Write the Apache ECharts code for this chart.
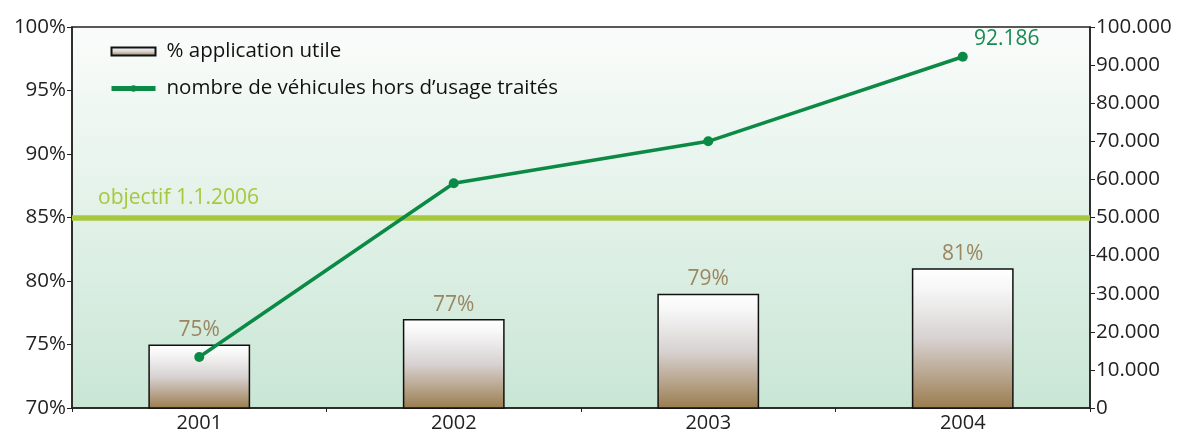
<!DOCTYPE html>
<html>
<head>
<meta charset="utf-8">
<script src="https://cdn.jsdelivr.net/npm/echarts@6/dist/echarts.min.js"></script>
<style>
html, body { margin: 0; padding: 0; background: #fff; }
#chart { width: 1183px; height: 435px; }
</style>
</head>
<body>
<div id="chart"></div>
<script>
const years = ['2001', '2002', '2003', '2004']
const applicationUtile = [75, 77, 79, 81]
const vehicules = [13400, 59000, 70000, 92186]
const objectif = 85
const objectifLabel = 'objectif 1.1.2006'

const fontFamily = '"Open Sans", "DejaVu Sans", sans-serif'
const myChart = echarts.init(document.getElementById('chart'))

// 10000 -> "10.000"
const formatThousands = v => {
    if (v === 0) return '0'
    const s = String(v)
    return s.slice(0, s.length - 3) + '.' + s.slice(-3)
}

const option = {
    animation: false,
    textStyle: { fontFamily: fontFamily },
    grid: {
        left: 72,
        right: 93,
        top: 27,
        bottom: 27,
        show: true,
        borderWidth: 1.5,
        borderColor: '#222',
        backgroundColor: new echarts.graphic.LinearGradient(0, 0, 0, 1, [
            { offset: 0, color: '#fafcfb' },
            { offset: 1, color: '#c9e6d5' }
        ])
    },
    legend: {
        orient: 'vertical',
        left: 104,
        top: 36,
        itemGap: 16,
        itemWidth: 44,
        itemHeight: 8,
        textStyle: { fontSize: 20.5, color: '#111', fontFamily: fontFamily, padding: [0, 0, 0, 6] },
        data: [
            { name: '% application utile', icon: 'rect' },
            { name: 'nombre de véhicules hors d’usage traités', lineStyle: { width: 5 } }
        ]
    },
    xAxis: {
        type: 'category',
        data: years,
        axisLine: { lineStyle: { color: '#222', width: 1.5 } },
        axisTick: { show: true, length: 4, lineStyle: { color: '#222' } },
        axisLabel: { fontSize: 20, color: '#222', margin: 5 }
    },
    yAxis: [
        {
            type: 'value',
            min: 70,
            max: 100,
            interval: 5,
            position: 'left',
            splitLine: { show: false },
            axisLine: { show: true, lineStyle: { color: '#222', width: 1.5 } },
            axisTick: { show: true, length: 5, lineStyle: { color: '#222' } },
            axisLabel: { fontSize: 20.5, color: '#222', formatter: '{value}%', margin: 6 }
        },
        {
            type: 'value',
            min: 0,
            max: 100000,
            interval: 10000,
            position: 'right',
            splitLine: { show: false },
            axisLine: { show: true, lineStyle: { color: '#222', width: 1.5 } },
            axisTick: { show: true, length: 5, lineStyle: { color: '#222' } },
            axisLabel: { fontSize: 20.5, color: '#222', formatter: formatThousands, margin: 6 }
        }
    ],
    series: [
        {
            name: '% application utile',
            type: 'bar',
            yAxisIndex: 0,
            barWidth: '40%',
            data: applicationUtile,
            itemStyle: {
                color: new echarts.graphic.LinearGradient(0, 0, 0, 1, [
                    { offset: 0, color: '#ffffff' },
                    { offset: 0.15, color: '#f6f6f6' },
                    { offset: 0.5, color: '#d8d2d2' },
                    { offset: 1, color: '#9a7c4e' }
                ]),
                borderColor: '#111',
                borderWidth: 1.5
            },
            label: {
                show: true,
                position: 'top',
                distance: 4,
                fontSize: 21,
                color: '#9a8660',
                formatter: '{c}%'
            },
            markLine: {
                silent: true,
                symbol: 'none',
                lineStyle: { color: '#a7c83c', width: 5.5, type: 'solid' },
                label: {
                    show: true,
                    position: 'insideStartTop',
                    formatter: objectifLabel,
                    fontSize: 21,
                    color: '#a7c83c',
                    distance: [26, 9]
                },
                data: [{ yAxis: objectif }]
            },
            z: 2
        },
        {
            name: 'nombre de véhicules hors d’usage traités',
            type: 'line',
            yAxisIndex: 1,
            data: vehicules.map((v, i) => i === vehicules.length - 1
                ? { value: v, label: { show: true } }
                : v),
            symbol: 'circle',
            symbolSize: 10,
            lineStyle: { color: '#0b8a45', width: 3.5 },
            itemStyle: { color: '#0b8a45' },
            label: {
                show: false,
                position: 'top',
                offset: [44, 3],
                fontSize: 21,
                color: '#1a8a50',
                formatter: p => formatThousands(p.value)
            },
            z: 5
        }
    ]
}

myChart.setOption(option)
</script>
</body>
</html>
